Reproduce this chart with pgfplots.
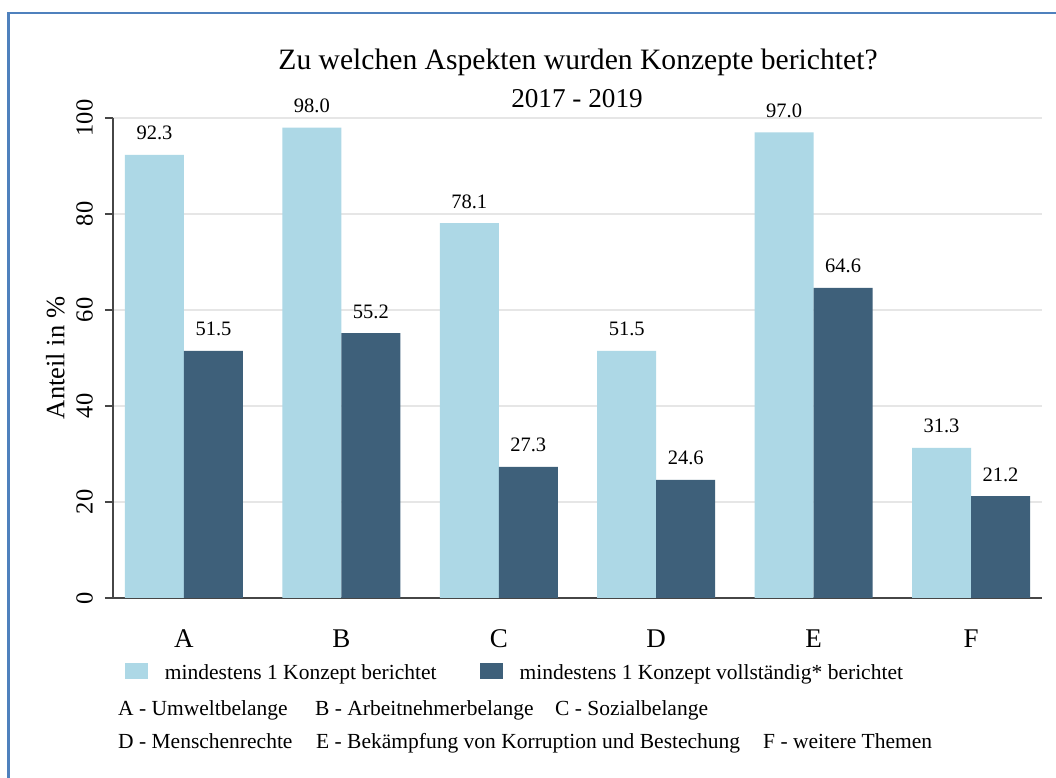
\documentclass[border=0pt]{standalone}
\usepackage{pgfplots}
\pgfplotsset{compat=1.18}
\usepackage{fontspec}
\setmainfont{Liberation Serif}
\definecolor{lightbar}{RGB}{173,216,230}
\definecolor{darkbar}{RGB}{62,96,122}
\definecolor{frameblue}{RGB}{79,129,189}
\definecolor{gridgray}{RGB}{230,230,230}
\definecolor{axisgray}{RGB}{70,70,70}
\begin{document}
\begin{tikzpicture}
\useasboundingbox (0,0) rectangle (1056bp,778bp);
\fill[white] (0,0) rectangle (1056bp,778bp);
\draw[frameblue, line width=2.5bp] (8.5bp,-3bp) -- (8.5bp,765bp) -- (1060bp,765bp);
\begin{axis}[
  at={(113bp,180bp)}, anchor=south west,
  scale only axis, width=929bp, height=480bp,
  xmin=-0.451, xmax=5.451, ymin=0, ymax=100,
  clip=false,
  ybar=0pt, bar width=59bp,
  axis x line=bottom, axis y line=left,
  axis line style={-, axisgray, line width=1.5bp},
  xtick={0,1,2,3,4,5}, xticklabels={A,B,C,D,E,F},
  x tick style={draw=none},
  xticklabel style={anchor=base, inner sep=0pt, font=\fontsize{27bp}{30bp}\selectfont},
  xticklabel shift=45bp,
  ytick={0,20,40,60,80,100},
  y tick style={axisgray, line width=1.5bp},
  ytick align=outside, major tick length=8bp,
  yticklabel style={rotate=90, anchor=south, inner sep=0pt, font=\fontsize{24.5bp}{28bp}\selectfont},
  yticklabel shift=12bp,
  ymajorgrids, grid style={gridgray, line width=1.5bp},
  /pgf/number format/assume math mode=true,
  ylabel={Anteil in \%},
  every axis y label/.style={at={(axis description cs:-0.0517,0.5)}, rotate=90, anchor=south, inner sep=0pt, font=\fontsize{26.5bp}{30bp}\selectfont},
  nodes near coords={\pgfmathprintnumber[fixed,fixed zerofill,precision=1,assume math mode=true]{\pgfplotspointmeta}},
  every node near coord/.append style={anchor=base, yshift=15bp, text=black, font=\fontsize{20.5bp}{24bp}\selectfont},
  legend columns=2,
  legend style={at={(axis description cs:0,0)}, anchor=north west, xshift=12bp, yshift=-65bp,
    draw=none, fill=none, inner sep=0pt, outer sep=0pt,
    font=\fontsize{21.5bp}{25bp}\selectfont, nodes={inner sep=0pt},
    /tikz/every odd column/.append style={column sep=17bp},
    /tikz/every even column/.append style={column sep=43bp}},
  legend image code/.code={\fill[#1] (0bp,-6.5bp) rectangle (23bp,9.5bp);},
]
\addplot[fill=lightbar, draw=none] coordinates {(0,92.3) (1,98.0) (2,78.1) (3,51.5) (4,97.0) (5,31.3)};
\addplot[fill=darkbar, draw=none] coordinates {(0,51.5) (1,55.2) (2,27.3) (3,24.6) (4,64.6) (5,21.2)};
\legend{mindestens 1 Konzept berichtet, mindestens 1 Konzept vollständig* berichtet}
\end{axis}
\node[anchor=base, inner sep=0pt, font=\fontsize{29.6bp}{34bp}\selectfont] at (578bp,708bp) {Zu welchen Aspekten wurden Konzepte berichtet?};
\node[anchor=base, inner sep=0pt, font=\fontsize{27.2bp}{31bp}\selectfont] at (577bp,670bp) {2017 - 2019};
\begin{scope}[every node/.style={anchor=base west, inner sep=0pt, font=\fontsize{21.5bp}{25bp}\selectfont}]
\node at (118bp,62bp) {A - Umweltbelange};
\node at (315bp,62bp) {B - Arbeitnehmerbelange};
\node at (555bp,62bp) {C - Sozialbelange};
\node at (118bp,30bp) {D - Menschenrechte};
\node at (316bp,30bp) {E - Bekämpfung von Korruption und Bestechung};
\node at (763bp,30bp) {F - weitere Themen};
\end{scope}
\end{tikzpicture}
\end{document}
